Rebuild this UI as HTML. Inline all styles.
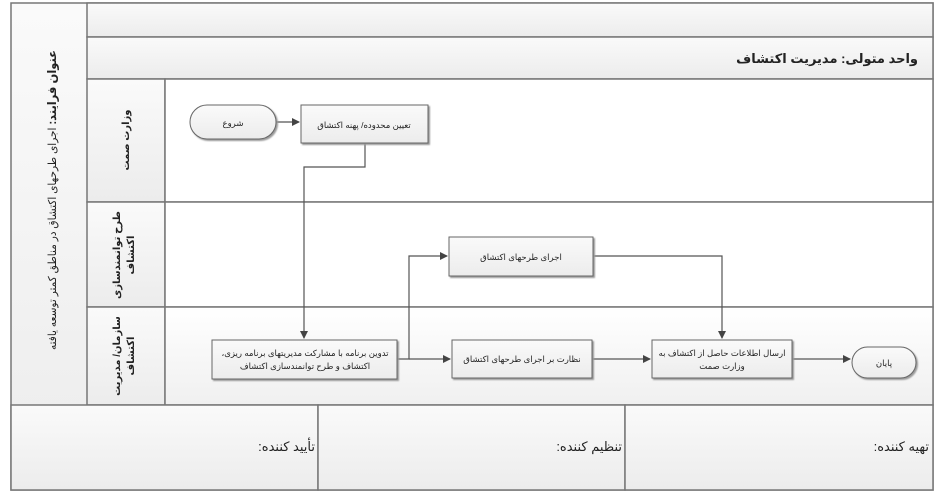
<!DOCTYPE html>
<html><head><meta charset="utf-8"><style>
body{margin:0;width:948px;height:502px;background:#fff;overflow:hidden}
svg{display:block}
text{font-family:"Liberation Sans","DejaVu Sans",sans-serif;fill:#222}
</style></head><body>
<svg width="948" height="502" viewBox="0 0 948 502" xmlns="http://www.w3.org/2000/svg">
<defs>
<linearGradient id="g" x1="0" y1="0" x2="0" y2="1"><stop offset="0" stop-color="#fafafa"/><stop offset="1" stop-color="#ececec"/></linearGradient>
<linearGradient id="g2" x1="0" y1="0" x2="0" y2="1"><stop offset="0" stop-color="#ffffff"/><stop offset="1" stop-color="#f0f0f0"/></linearGradient>
<marker id="a" markerWidth="8" markerHeight="8" refX="7" refY="4" orient="auto" markerUnits="userSpaceOnUse"><path d="M0,0 L8,4 L0,8 z" fill="#444"/></marker>
<filter id="s"><feDropShadow dx="1.5" dy="1.5" stdDeviation="0.8" flood-color="#999"/></filter>
</defs>
<g stroke="#777" stroke-width="1.5" fill="url(#g)">
<rect x="11" y="3" width="922" height="487"/>
<rect x="87" y="3" width="846" height="34"/>
<rect x="87" y="37" width="846" height="42"/>
<rect x="87" y="79" width="78" height="123"/>
<rect x="87" y="202" width="78" height="105"/>
<rect x="87" y="307" width="78" height="98"/>
<rect x="165" y="79" width="768" height="123" fill="#fff"/>
<rect x="165" y="202" width="768" height="105" fill="#fff"/>
<rect x="165" y="307" width="768" height="98" fill="url(#g2)"/>
<rect x="11" y="405" width="307" height="85"/>
<rect x="318" y="405" width="307" height="85"/>
<rect x="625" y="405" width="308" height="85"/>
</g>
<text x="918" y="63" font-size="13" font-weight="bold" text-anchor="end">واحد متولی: مدیریت اکتشاف</text>
<text transform="translate(56,200) rotate(-90)" font-size="11" text-anchor="middle" textLength="300" lengthAdjust="spacingAndGlyphs"><tspan font-weight="bold" font-size="12">عنوان فرایند:&#x200F;</tspan> اجرای طرحهای اکتشاق در مناطق کمتر توسعه یافته</text>
<text transform="translate(129,140) rotate(-90)" font-size="10" font-weight="bold" text-anchor="middle">وزارت صمت</text>
<text transform="translate(120,255) rotate(-90)" font-size="10" font-weight="bold" text-anchor="middle">طرح توانمندسازی</text>
<text transform="translate(134,255) rotate(-90)" font-size="10" font-weight="bold" text-anchor="middle">اکتشاف</text>
<text transform="translate(120,356) rotate(-90)" font-size="10" font-weight="bold" text-anchor="middle">سازمان/ مدیریت</text>
<text transform="translate(134,356) rotate(-90)" font-size="10" font-weight="bold" text-anchor="middle">اکتشاف</text>
<text x="315" y="451" font-size="13" text-anchor="end">تأیید کننده:&#x200F;</text>
<text x="622" y="451" font-size="13" text-anchor="end">تنظیم کننده:&#x200F;</text>
<text x="929" y="451" font-size="13" text-anchor="end">تهیه کننده:&#x200F;</text>
<g stroke="#555" stroke-width="1.2" fill="none">
<path d="M276,122 H299" marker-end="url(#a)"/>
<path d="M365,143 V167 H304 V338" marker-end="url(#a)"/>
<path d="M397,359 H409 V256 H447" marker-end="url(#a)"/>
<path d="M409,359 H450" marker-end="url(#a)"/>
<path d="M593,256 H722 V338" marker-end="url(#a)"/>
<path d="M592,359 H650" marker-end="url(#a)"/>
<path d="M792,359 H850" marker-end="url(#a)"/>
</g>
<g stroke="#666" stroke-width="1" fill="url(#g)" filter="url(#s)">
<rect x="190" y="105" width="86" height="34" rx="17"/>
<rect x="301" y="105" width="127" height="38"/>
<rect x="449" y="237" width="144" height="39"/>
<rect x="212" y="340" width="185" height="39"/>
<rect x="452" y="340" width="140" height="38"/>
<rect x="652" y="340" width="140" height="38"/>
<rect x="852" y="347" width="64" height="31" rx="15.5"/>
</g>
<g font-size="8.5" text-anchor="middle">
<text x="233" y="126">شروع</text>
<text x="364" y="128">تعیین محدوده/ پهنه اکتشاق</text>
<text x="521" y="260">اجرای طرحهای اکتشاق</text>
<text x="305" y="356">تدوین برنامه با مشارکت مدیریتهای برنامه ریزی،&#x200F;</text>
<text x="305" y="369">اکتشاف و طرح توانمندسازی اکتشاف</text>
<text x="522" y="362">نظارت بر اجرای طرحهای اکتشاق</text>
<text x="722" y="356">ارسال اطلاعات حاصل از اکتشاف به</text>
<text x="722" y="369">وزارت صمت</text>
<text x="884" y="366">پایان</text>
</g>
</svg>
</body></html>
